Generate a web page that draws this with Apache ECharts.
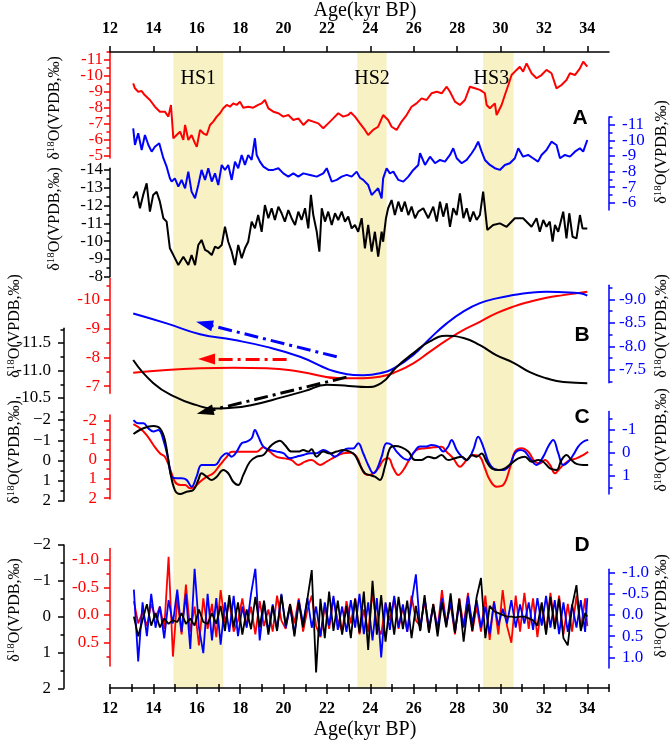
<!DOCTYPE html>
<html><head><meta charset="utf-8">
<script src="https://cdn.jsdelivr.net/npm/echarts@6.0.0/dist/echarts.min.js"></script>
<style>html,body{margin:0;padding:0;background:#fff}#c{width:671px;height:740px}</style>
</head><body><div id="c"></div>
<script>
// ---------------- DATA ----------------
const ageTicks = [12,13,14,15,16,17,18,19,20,21,22,23,24,25,26,27,28,29,30,31,32,33,34,35];
const ageLabels = [12,14,16,18,20,22,24,26,28,30,32,34];
const hsBands = [['HS1',14.92,17.22],['HS2',23.4,24.75],['HS3',29.2,30.6]];
const panelLetters = ['A','B','C','D'];

// Panel A (raw records)
const redA = [[13.07,-9.54],[13.15,-9.23],[13.3,-9.02],[13.46,-9.06],[13.6,-8.81],[13.84,-8.5],[14.07,-8.08],[14.3,-7.77],[14.53,-7.77],[14.69,-7.46],[14.81,-8.19],[14.92,-6.1],[15.07,-6.31],[15.23,-6.52],[15.38,-6.0],[15.46,-6.94],[15.61,-6.0],[15.76,-6.31],[15.92,-5.79],[16.0,-5.58],[16.15,-6.63],[16.3,-6.42],[16.46,-6.31],[16.61,-6.94],[16.76,-7.15],[16.92,-7.46],[17.07,-7.67],[17.22,-7.98],[17.38,-8.19],[17.53,-8.08],[17.68,-8.29],[17.84,-8.19],[17.99,-8.4],[18.14,-8.02],[18.37,-8.08],[18.6,-8.02],[18.83,-8.19],[18.99,-8.29],[19.14,-8.5],[19.3,-7.98],[19.53,-7.77],[19.76,-7.67],[19.99,-7.46],[20.22,-7.56],[20.45,-7.25],[20.68,-7.35],[20.91,-6.94],[21.14,-7.25],[21.37,-7.15],[21.6,-7.04],[21.83,-6.73],[22.06,-7.04],[22.29,-7.35],[22.52,-7.67],[22.75,-7.46],[22.98,-7.56],[23.1,-7.72],[23.29,-7.46],[23.52,-7.04],[23.75,-6.63],[23.9,-6.31],[24.13,-6.63],[24.36,-6.83],[24.59,-7.56],[24.82,-7.25],[24.98,-6.83],[25.21,-6.63],[25.44,-7.15],[25.67,-7.56],[25.9,-8.08],[26.13,-8.29],[26.36,-8.6],[26.59,-8.5],[26.82,-8.92],[27.06,-9.02],[27.29,-8.92],[27.52,-9.33],[27.67,-9.02],[27.9,-8.4],[28.13,-8.19],[28.36,-8.5],[28.59,-9.33],[28.82,-9.23],[29.05,-9.13],[29.28,-8.92],[29.36,-8.19],[29.51,-7.98],[29.74,-8.29],[29.82,-7.56],[30.05,-8.19],[30.2,-8.81],[30.36,-9.44],[30.51,-10.06],[30.74,-10.38],[30.89,-10.58],[31.04,-10.27],[31.2,-10.79],[31.43,-10.17],[31.66,-9.86],[31.89,-10.06],[32.12,-10.38],[32.35,-10.17],[32.58,-9.23],[32.81,-9.44],[33.04,-9.75],[33.2,-10.17],[33.43,-10.06],[33.66,-10.48],[33.81,-10.9],[34.0,-10.58]];
const blueA = [[13.07,-10.77],[13.15,-9.7],[13.3,-10.45],[13.46,-9.38],[13.61,-10.34],[13.77,-9.7],[13.92,-9.27],[14.07,-9.59],[14.27,-9.81],[14.46,-8.85],[14.61,-8.31],[14.76,-7.56],[14.84,-7.35],[14.99,-7.56],[15.15,-7.03],[15.3,-7.46],[15.46,-6.92],[15.61,-7.99],[15.76,-6.71],[15.92,-6.28],[16.07,-7.13],[16.22,-8.1],[16.38,-7.46],[16.53,-8.21],[16.69,-7.35],[16.84,-7.88],[16.99,-7.13],[17.15,-8.42],[17.3,-8.1],[17.45,-8.42],[17.61,-7.46],[17.76,-8.63],[17.91,-8.21],[18.07,-9.06],[18.22,-8.42],[18.37,-9.06],[18.53,-8.74],[18.68,-10.13],[18.76,-9.06],[18.91,-8.63],[19.07,-8.31],[19.3,-8.1],[19.53,-8.1],[19.76,-8.21],[19.99,-7.88],[20.22,-7.67],[20.45,-7.88],[20.68,-7.67],[20.91,-7.88],[21.22,-7.78],[21.53,-7.67],[21.83,-7.88],[21.99,-8.21],[22.22,-7.35],[22.45,-7.46],[22.68,-7.67],[22.91,-7.78],[23.14,-7.67],[23.37,-7.99],[23.52,-7.6],[23.67,-7.46],[23.9,-7.13],[24.06,-6.49],[24.21,-6.71],[24.36,-6.92],[24.52,-6.28],[24.59,-7.56],[24.75,-8.21],[24.9,-7.88],[25.06,-7.99],[25.29,-7.46],[25.52,-7.35],[25.75,-7.67],[25.98,-8.1],[26.21,-8.42],[26.29,-9.17],[26.52,-8.42],[26.75,-8.95],[26.98,-8.53],[27.21,-8.74],[27.44,-8.63],[27.67,-9.06],[27.82,-9.49],[27.98,-8.85],[28.21,-8.53],[28.44,-8.74],[28.67,-9.17],[28.82,-9.49],[28.97,-9.91],[29.13,-9.27],[29.28,-8.74],[29.51,-8.42],[29.74,-8.21],[29.97,-8.1],[30.2,-8.42],[30.43,-8.53],[30.66,-8.85],[30.82,-9.49],[31.04,-8.95],[31.27,-9.06],[31.5,-8.85],[31.73,-8.63],[31.89,-9.06],[32.12,-9.38],[32.35,-9.91],[32.58,-9.7],[32.74,-8.85],[32.97,-9.06],[33.2,-8.95],[33.43,-9.27],[33.66,-9.49],[33.81,-9.27],[34.0,-10.02]];
const blackA = [[13.07,-12.41],[13.23,-12.78],[13.38,-11.85],[13.53,-12.6],[13.69,-13.25],[13.84,-11.66],[13.99,-12.6],[14.15,-12.78],[14.3,-12.22],[14.46,-11.29],[14.61,-11.1],[14.76,-9.6],[14.92,-9.22],[15.15,-8.66],[15.38,-9.13],[15.61,-8.66],[15.76,-9.22],[15.92,-8.66],[16.07,-9.79],[16.22,-10.07],[16.38,-9.51],[16.53,-9.41],[16.69,-9.22],[16.84,-9.69],[16.99,-9.6],[17.15,-9.79],[17.3,-10.81],[17.45,-9.97],[17.61,-9.41],[17.76,-8.66],[17.91,-9.79],[18.07,-9.04],[18.22,-9.6],[18.37,-9.97],[18.53,-11.1],[18.68,-10.72],[18.83,-11.47],[18.99,-10.53],[19.14,-12.03],[19.3,-11.29],[19.45,-11.85],[19.6,-11.19],[19.76,-11.94],[19.91,-11.57],[20.06,-11.1],[20.22,-11.75],[20.37,-11.29],[20.53,-10.91],[20.68,-11.66],[20.83,-11.19],[20.99,-11.85],[21.14,-10.72],[21.26,-12.6],[21.37,-11.47],[21.53,-10.53],[21.65,-9.41],[21.76,-11.85],[21.91,-11.1],[22.06,-11.66],[22.22,-10.91],[22.37,-11.57],[22.52,-11.19],[22.68,-11.66],[22.83,-11.1],[22.98,-11.38],[23.14,-10.72],[23.29,-10.91],[23.44,-10.53],[23.6,-11.29],[23.75,-9.6],[23.9,-10.91],[24.06,-9.41],[24.21,-10.53],[24.36,-9.13],[24.52,-10.53],[24.59,-9.97],[24.72,-11.29],[24.82,-11.85],[24.98,-12.31],[25.13,-11.47],[25.29,-12.22],[25.44,-11.66],[25.59,-12.22],[25.75,-11.47],[25.9,-11.94],[26.06,-11.29],[26.21,-11.66],[26.44,-11.85],[26.67,-11.29],[26.9,-11.94],[27.06,-11.1],[27.21,-12.22],[27.36,-11.38],[27.52,-12.13],[27.67,-10.81],[27.82,-11.85],[27.98,-11.47],[28.13,-12.69],[28.29,-11.29],[28.44,-11.85],[28.59,-11.1],[28.75,-11.66],[28.9,-11.19],[29.05,-11.47],[29.2,-12.78],[29.39,-10.63],[29.66,-10.91],[29.97,-11.0],[30.28,-10.81],[30.66,-11.29],[31.04,-11.29],[31.43,-10.81],[31.66,-11.29],[31.81,-10.53],[31.97,-11.19],[32.12,-10.81],[32.27,-11.1],[32.4,-9.97],[32.51,-10.91],[32.66,-10.53],[32.89,-11.66],[33.04,-10.16],[33.17,-11.57],[33.32,-10.25],[33.5,-10.16],[33.66,-11.47],[33.78,-10.72],[34.0,-10.72]];

// Panel B (trends)
const redB = [[13.07,-7.46],[14.61,-7.56],[16.15,-7.62],[17.68,-7.64],[19.22,-7.62],[20.76,-7.50],[22.6,-7.27],[23.67,-7.27],[24.44,-7.32],[25.21,-7.50],[25.98,-7.79],[26.75,-8.20],[27.52,-8.60],[28.28,-8.95],[29.05,-9.24],[29.82,-9.54],[30.59,-9.77],[31.35,-9.94],[32.12,-10.08],[32.89,-10.17],[34.0,-10.29]];
const blueB = [[13.07,-8.70],[14.61,-8.49],[16.15,-8.26],[17.68,-8.14],[19.22,-7.99],[20.76,-7.78],[22.6,-7.44],[23.67,-7.39],[24.44,-7.43],[25.21,-7.57],[25.98,-7.82],[26.75,-8.17],[27.52,-8.49],[28.28,-8.74],[29.05,-8.92],[29.82,-9.02],[30.59,-9.09],[31.35,-9.14],[32.12,-9.16],[32.89,-9.15],[33.66,-9.13],[34.0,-9.08]];
const blackB = [[13.07,-11.19],[14.0,-10.77],[15.0,-10.52],[16.0,-10.37],[16.7,-10.31],[17.5,-10.32],[18.5,-10.37],[20.0,-10.52],[21.0,-10.63],[22.0,-10.74],[23.0,-10.72],[23.8,-10.70],[24.5,-10.77],[25.2,-11.06],[26.0,-11.32],[26.7,-11.52],[27.5,-11.63],[28.3,-11.59],[29.05,-11.46],[29.8,-11.28],[30.6,-11.14],[31.35,-10.97],[32.1,-10.86],[32.9,-10.79],[34.0,-10.77]];
// trend arrows: [tailAge, tailValue, headAge, headValue]
const arrowRed = [20.14,-7.94,16.45,-7.94];
const arrowBlue = [22.45,-7.78,16.35,-8.48];
const arrowBlack = [22.9,-10.88,16.38,-10.25];

// Panel C (filtered)
const blackC = [[13.08,-1.31],[13.54,-1.59],[14.0,-1.70],[14.3,-1.59],[14.53,-1.01],[14.76,0.47],[14.99,1.46],[15.23,1.65],[15.53,1.54],[15.84,1.46],[16.07,0.96],[16.22,0.63],[16.45,0.80],[16.69,0.96],[16.92,0.80],[17.22,0.47],[17.45,0.63],[17.68,1.05],[17.91,1.21],[18.14,0.72],[18.45,0.06],[18.76,-0.19],[19.07,-0.27],[19.37,-0.68],[19.6,-0.88],[19.83,-0.98],[20.06,-0.77],[20.37,-0.44],[20.68,-0.44],[20.91,-0.52],[21.14,-0.44],[21.29,-0.55],[21.52,-0.19],[21.83,-0.44],[22.14,-0.35],[22.45,-0.44],[22.75,-0.52],[23.06,-0.44],[23.29,-0.27],[23.52,0.22],[23.75,0.63],[23.98,0.72],[24.21,0.80],[24.44,0.96],[24.67,0.31],[24.9,-0.60],[25.13,-0.72],[25.44,-0.65],[25.75,-0.44],[26.06,-0.02],[26.36,-0.02],[26.67,-0.19],[26.98,-0.11],[27.28,-0.27],[27.59,-0.02],[27.9,-0.11],[28.21,-0.19],[28.44,-0.02],[28.67,-0.27],[28.9,-0.19],[29.13,-0.35],[29.36,0.06],[29.59,0.39],[29.9,0.47],[30.2,0.39],[30.51,0.14],[30.82,-0.11],[31.12,-0.19],[31.43,0.06],[31.74,-0.02],[31.97,0.06],[32.28,0.39],[32.58,0.47],[32.81,-0.02],[33.04,-0.27],[33.27,-0.02],[33.5,0.17],[33.81,0.22],[34.04,0.22]];
const redC = [[13.08,-1.82],[13.38,-1.60],[13.69,-1.25],[14.0,-0.74],[14.3,-0.31],[14.53,-0.13],[14.76,0.46],[14.99,1.15],[15.23,1.32],[15.46,1.32],[15.69,1.49],[15.92,1.41],[16.15,1.15],[16.45,0.90],[16.76,0.72],[17.07,0.29],[17.38,-0.13],[17.61,-0.39],[17.91,-0.39],[18.3,-0.39],[18.76,-0.39],[19.07,-0.62],[19.37,-0.39],[19.68,-0.13],[20.06,-0.05],[20.37,0.04],[20.68,0.29],[20.99,0.12],[21.29,0.04],[21.68,0.29],[21.98,0.12],[22.37,-0.13],[22.75,-0.31],[23.06,-0.34],[23.37,-0.13],[23.67,0.64],[23.9,0.81],[24.14,0.72],[24.37,0.46],[24.6,0.04],[24.83,-0.05],[25.06,0.46],[25.29,0.81],[25.52,0.55],[25.83,-0.05],[26.13,-0.48],[26.52,-0.57],[26.9,-0.62],[27.28,-0.65],[27.51,-0.39],[27.82,-0.05],[28.13,0.38],[28.44,0.04],[28.74,-0.22],[29.05,-0.13],[29.28,0.46],[29.51,1.07],[29.82,1.41],[30.13,1.32],[30.43,0.46],[30.66,-0.39],[30.97,-0.57],[31.28,-0.39],[31.58,0.12],[31.82,0.21],[32.05,0.04],[32.28,0.29],[32.51,0.72],[32.74,0.46],[32.97,0.21],[33.2,0.04],[33.5,-0.05],[33.81,-0.22],[34.04,-0.39]];
const blueC = [[13.08,-1.43],[13.31,-1.29],[13.54,-1.29],[13.77,-1.07],[14.0,-0.93],[14.23,-1.0],[14.46,-0.57],[14.69,0.30],[14.84,1.03],[15.07,1.10],[15.3,1.10],[15.53,1.17],[15.76,1.47],[15.99,1.03],[16.22,0.52],[16.53,0.52],[16.84,0.52],[17.15,0.16],[17.38,0.01],[17.61,0.16],[17.84,-0.06],[18.07,-0.42],[18.3,-0.49],[18.53,-0.64],[18.68,-1.0],[18.84,-0.71],[19.07,-0.28],[19.37,-0.13],[19.68,-0.06],[19.99,0.01],[20.29,0.23],[20.6,0.16],[20.91,0.09],[21.22,0.01],[21.52,0.01],[21.83,-0.13],[22.14,0.01],[22.37,0.16],[22.68,-0.06],[22.98,-0.20],[23.21,-0.20],[23.44,-0.42],[23.67,0.01],[23.9,0.52],[24.14,0.88],[24.29,0.74],[24.52,0.16],[24.75,-0.42],[24.98,-0.35],[25.21,-0.06],[25.52,0.23],[25.75,0.30],[25.98,0.01],[26.29,-0.28],[26.59,-0.28],[26.82,-0.35],[27.13,-0.28],[27.36,-0.06],[27.59,-0.28],[27.74,-0.57],[27.98,-0.13],[28.21,0.16],[28.44,0.30],[28.74,-0.13],[28.97,-0.71],[29.2,-0.28],[29.44,0.38],[29.66,0.67],[29.9,0.74],[30.13,0.74],[30.43,0.52],[30.66,0.01],[30.9,-0.13],[31.12,-0.06],[31.36,0.23],[31.66,0.52],[31.97,0.16],[32.2,-0.28],[32.43,-0.57],[32.66,0.01],[32.89,0.52],[33.12,0.38],[33.35,0.09],[33.58,-0.28],[33.81,-0.49],[34.04,-0.57]];

// Panel D (high-frequency residuals)
const dAges = [13.1,13.3,13.5,13.7,13.9,14.1,14.3,14.5,14.7,14.9,
  15.1,15.3,15.5,15.7,15.9,16.1,16.3,16.5,16.7,16.9,
  17.1,17.3,17.5,17.7,17.9,18.1,18.3,18.5,18.7,18.9,
  19.1,19.3,19.5,19.7,19.9,20.1,20.3,20.5,20.7,20.9,
  21.1,21.3,21.5,21.7,21.9,22.1,22.3,22.5,22.7,22.9,
  23.1,23.3,23.5,23.7,23.9,24.1,24.3,24.5,24.7,24.9,
  25.1,25.3,25.5,25.7,25.9,26.1,26.3,26.5,26.7,26.9,
  27.1,27.3,27.5,27.7,27.9,28.1,28.3,28.5,28.7,28.9,
  29.1,29.3,29.5,29.7,29.9,30.1,30.3,30.5,30.7,30.9,
  31.1,31.3,31.5,31.7,31.9,32.1,32.3,32.5,32.7,32.9,
  33.1,33.3,33.5,33.7,33.9,34.0];
const redD = [-0.25,0.15,-0.05,0.2,-0.2,0.05,-0.15,0.25,-1.05,0.75,
  -0.3,0.35,-0.55,0.3,-0.15,0.55,-0.3,0.25,-0.2,0.4,
  -0.45,0.15,-0.25,0.3,0.1,-0.3,0.2,-0.15,0.35,-0.25,
  0.2,-0.1,0.3,-0.35,0.1,0.25,-0.2,0.15,-0.3,0.3,
  -0.1,-0.35,0.2,0.4,-0.15,0.25,-0.3,0.1,0.3,-0.25,
  0.15,-0.3,0.35,-0.1,0.3,-0.4,0.2,0.35,-0.2,0.1,
  -0.3,0.25,-0.15,0.3,-0.35,0.1,0.2,-0.25,0.3,-0.2,
  0.25,-0.45,0.15,-0.2,0.35,-0.3,0.2,-0.4,0.3,-0.15,
  0.3,-0.35,0.45,-0.25,0.35,-0.45,0.2,0.5,-0.35,0.3,
  -0.4,0.25,-0.3,0.4,-0.2,0.3,-0.4,0.2,-0.35,0.35,
  -0.2,0.3,-0.35,0.25,-0.3,0.2];
const blueD = [-0.6,1.1,-0.3,0.5,-0.5,0.3,-0.2,0.55,-0.35,0.2,
  -0.6,0.4,-0.5,0.8,-1.1,0.3,0.9,-0.5,0.6,-0.4,
  0.7,-0.3,0.4,-0.45,0.5,-0.2,0.3,-0.5,-1.1,0.6,
  -0.3,0.4,-0.25,0.35,-0.5,0.3,-0.2,0.45,-0.35,0.2,
  -0.4,0.3,-0.2,0.5,-0.3,0.25,-0.45,0.35,-0.2,0.4,
  -0.35,0.3,-0.5,0.45,-0.3,0.6,-0.4,1.0,-0.3,0.35,
  -0.45,0.3,-0.25,0.4,-0.3,-0.96,0.35,-0.4,0.3,-0.2,
  0.35,-0.4,0.25,-0.3,0.4,-0.25,0.3,-0.45,0.2,-0.35,
  0.3,-0.2,0.45,-0.3,0.25,-0.15,0.2,-0.35,0.3,-0.25,
  0.2,-0.3,0.35,-0.4,0.25,-0.45,0.3,-0.35,0.45,-0.3,
  0.4,-0.25,0.3,-0.35,0.4,-0.4];
const blackD = [0.0,0.55,0.1,-0.35,0.25,-0.1,0.3,0.05,0.2,0.1,
  0.15,-0.1,0.2,0.05,0.25,-0.2,0.15,0.2,-0.1,0.2,
  -0.3,0.4,-0.6,0.3,-0.4,0.5,-0.2,0.35,-0.55,0.3,
  -0.45,0.5,-0.3,0.4,-0.6,0.25,-0.35,0.55,-0.4,0.3,
  -0.5,-1.3,1.56,-0.5,0.6,-0.7,0.4,-0.45,0.5,-0.3,
  0.6,-0.5,0.45,-0.7,0.93,-1.0,0.5,-0.6,0.7,-0.4,
  0.5,-0.55,0.35,-0.45,0.6,-0.3,0.4,-0.6,0.45,-0.35,
  0.55,-0.4,0.3,-0.65,0.45,-0.5,0.7,-0.35,0.4,-0.55,
  -1.08,0.6,-0.3,-0.15,-0.1,-0.05,0.0,0.0,0.02,0.0,
  0.0,0.05,0.1,0.25,-0.4,0.5,-0.55,0.35,-0.5,0.6,
  0.8,-0.3,-0.88,0.4,-0.1,0.0];

// axis tick values
const tkRedA=[-11,-10,-9,-8,-7,-6,-5], mnRedA=[-11.5,-10.5,-9.5,-8.5,-7.5,-6.5,-5.5];
const tkBlueA=[-11,-10,-9,-8,-7,-6], mnBlueA=[-11.5,-10.5,-9.5,-8.5,-7.5,-6.5];
const tkBlackA=[-14,-13,-12,-11,-10,-9,-8], mnBlackA=[-13.5,-12.5,-11.5,-10.5,-9.5,-8.5];
const tkRedB=[-10,-9,-8,-7], mnRedB=[-10.5,-9.5,-8.5,-7.5];
const tkBlackB=[-11.5,-11.0,-10.5], mnBlackB=[-11.75,-11.25,-10.75,-10.25];
const tkBlueB=[-9.0,-8.5,-8.0,-7.5], mnBlueB=[-9.25,-8.75,-8.25,-7.75,-7.25];
const tkC=[-2,-1,0,1,2], mnC=[-1.5,-0.5,0.5,1.5];
const tkBlueC=[-1,0,1], mnBlueC=[-1.5,-0.5,0.5,1.5];
const tkBlackD=[-2,-1,0,1,2], mnBlackD=[-1.5,-0.5,0.5,1.5];
const tkRedD=[-1.0,-0.5,0.0,0.5], mnRedD=[-0.75,-0.25,0.25,0.75];
const tkBlueD=[-1.0,-0.5,0.0,0.5,1.0], mnBlueD=[-0.75,-0.25,0.25,0.75];

// ---------------- BUILD ----------------
const SERIF='"Liberation Serif","Times New Roman",serif';
const SANS='"Liberation Sans",Arial,sans-serif';
const RED='#ff0000', BLUE='#0000ff', BLACK='#000000';
const YFS=17;
const grids=[], xAxes=[], yAxes=[], series=[];
const fmt=(d,minus)=>v=>(v<0?(minus||'-'):'')+Math.abs(v).toFixed(d);

// main frame grid (shared x axis)
grids.push({left:110,right:62,top:52,height:636});
const tickStyle={color:BLACK,width:1.5};
xAxes.push({type:'value',gridIndex:0,position:'top',min:12,max:35,z:10,
  axisLine:{onZero:false,lineStyle:tickStyle},
  axisTick:{customValues:ageLabels,length:6,lineStyle:tickStyle},
  axisLabel:{customValues:ageLabels,fontFamily:SERIF,fontWeight:'bold',fontSize:16,color:BLACK,margin:15,showMinLabel:true,showMaxLabel:true},
  splitLine:{show:false}});
xAxes.push({type:'value',gridIndex:0,position:'top',min:12,max:35,z:10,
  axisLine:{show:false},axisTick:{customValues:ageTicks,length:4,lineStyle:tickStyle},
  axisLabel:{show:false},splitLine:{show:false}});
xAxes.push({type:'value',gridIndex:0,position:'bottom',min:12,max:35,z:10,
  axisLine:{onZero:false,lineStyle:tickStyle},
  axisTick:{customValues:ageLabels,length:6,lineStyle:tickStyle},
  axisLabel:{customValues:ageLabels,fontFamily:SERIF,fontWeight:'bold',fontSize:16,color:BLACK,margin:13,showMinLabel:true,showMaxLabel:true},
  splitLine:{show:false}});
xAxes.push({type:'value',gridIndex:0,position:'bottom',min:12,max:35,z:10,
  axisLine:{show:false},axisTick:{customValues:ageTicks,length:4,lineStyle:tickStyle},
  axisLabel:{show:false},splitLine:{show:false}});
yAxes.push({type:'value',gridIndex:0,min:0,max:1,show:false});

// each panel axis is drawn as two stacked axes so neighbouring labels never get auto-hidden:
// axis 1 = line + major ticks + every other label, axis 2 = minor ticks + the remaining labels
function panelAxis(top,height,cfg){
  grids.push({left:110,right:62,top:top,height:height});
  const gi=grids.length-1;
  xAxes.push({type:'value',gridIndex:gi,min:12,max:35,show:false});
  const xi=xAxes.length-1;
  const ls={color:cfg.color,width:1.5};
  const evenL=cfg.ticks.filter((v,i)=>i%2===0), oddL=cfg.ticks.filter((v,i)=>i%2===1);
  const lab=(vals)=>({show:true,customValues:vals,formatter:cfg.fmt,color:cfg.color,fontFamily:SERIF,fontSize:YFS,margin:cfg.margin,
      showMinLabel:true,showMaxLabel:true,hideOverlap:false});
  yAxes.push({type:'value',gridIndex:gi,min:cfg.min,max:cfg.max,inverse:true,position:cfg.pos,offset:cfg.offset||0,
    axisLine:{show:true,onZero:false,lineStyle:ls},
    axisTick:{show:true,length:6,customValues:cfg.ticks,lineStyle:ls},
    axisLabel:lab(evenL),splitLine:{show:false}});
  const yi=yAxes.length-1;
  yAxes.push({type:'value',gridIndex:gi,min:cfg.min,max:cfg.max,inverse:true,position:cfg.pos,offset:cfg.offset||0,
    axisLine:{show:false},axisTick:{show:true,length:3.5,customValues:cfg.minors,lineStyle:ls},
    axisLabel:lab(oddL),splitLine:{show:false}});
  return {xi,yi};
}
function addLine(ax,data,color,width,smooth,extra){
  series.push(Object.assign({type:'line',xAxisIndex:ax.xi,yAxisIndex:ax.yi,data:data,symbol:'none',smooth:smooth||false,
    lineStyle:{color:color,width:width},itemStyle:{color:color},z:3,silent:true},extra||{}));
}
function arrowMark(a,color){
  return {markLine:{silent:true,symbol:['none','triangle'],symbolSize:[11,17],label:{show:false},
    lineStyle:{color:color,width:3,type:[14,5,3,5]},
    data:[[{coord:[a[0],a[1]]},{coord:[a[2],a[3]]}]]}};
}

// bands
series.push({type:'line',xAxisIndex:0,yAxisIndex:0,data:[[12,0.5]],symbol:'none',lineStyle:{opacity:0},z:1,silent:true,
  markArea:{silent:true,itemStyle:{color:'#f7f1c4'},
    label:{show:true,position:'insideTop',distance:17,color:BLACK,fontFamily:SERIF,fontSize:20},
    data:hsBands.map((b,i)=>[{xAxis:b[1],name:b[0],label:i===2?{offset:[-7,0]}:{}},{xAxis:b[2]}])}});

// Panel A
const aRed=panelAxis(52,106,{min:-11.5,max:-4.875,color:RED,pos:'left',ticks:tkRedA,minors:mnRedA,fmt:fmt(0),margin:7});
const aBlue=panelAxis(116.9,93.1,{min:-11.5,max:-5.53,color:BLUE,pos:'right',ticks:tkBlueA,minors:mnBlueA,fmt:fmt(0),margin:13});
const aBlack=panelAxis(168.2,108.6,{min:-14.1,max:-8,color:BLACK,pos:'left',ticks:tkBlackA,minors:mnBlackA,fmt:fmt(0),margin:7});
addLine(aRed,redA,RED,2);
addLine(aBlue,blueA,BLUE,2);
addLine(aBlack,blackA,BLACK,2);

// Panel B
const bRed=panelAxis(278.5,114.7,{min:-10.75,max:-6.75,color:RED,pos:'left',ticks:tkRedB,minors:mnRedB,fmt:fmt(0),margin:10});
const bBlack=panelAxis(328.15,91.85,{min:-11.77,max:-10.1,color:BLACK,pos:'left',offset:46,ticks:tkBlackB,minors:mnBlackB,fmt:fmt(1),margin:13});
const bBlue=panelAxis(285.2,97.5,{min:-9.3,max:-7.23,color:BLUE,pos:'right',ticks:tkBlueB,minors:mnBlueB,fmt:fmt(1),margin:10});
addLine(bRed,redB,RED,2,true,arrowMark(arrowRed,RED));
addLine(bBlue,blueB,BLUE,2,true,arrowMark(arrowBlue,BLUE));
addLine(bBlack,blackB,BLACK,2,true,arrowMark(arrowBlack,BLACK));

// Panel C
const cBlack=panelAxis(420,81,{min:-2,max:2,color:BLACK,pos:'left',offset:46,ticks:tkC,minors:mnC,fmt:fmt(0,'\u2212'),margin:13});
const cRed=panelAxis(415.1,84,{min:-2.28,max:2.05,color:RED,pos:'left',ticks:tkC,minors:mnC,fmt:fmt(0),margin:13});
const cBlue=panelAxis(411.6,82.3,{min:-1.8,max:1.78,color:BLUE,pos:'right',ticks:tkBlueC,minors:mnBlueC,fmt:fmt(0),margin:13});
addLine(cRed,redC,RED,2,0.4);
addLine(cBlue,blueC,BLUE,2,0.4);
addLine(cBlack,blackC,BLACK,2,0.4);

// Panel D
const dBlack=panelAxis(545,143.3,{min:-2,max:2,color:BLACK,pos:'left',offset:46,ticks:tkBlackD,minors:mnBlackD,fmt:fmt(0,'\u2212'),margin:13});
const dRed=panelAxis(548.5,117.5,{min:-1.2,max:0.92,color:RED,pos:'left',ticks:tkRedD,minors:mnRedD,fmt:fmt(1),margin:11});
const dBlue=panelAxis(569.3,98.6,{min:-1.08,max:1.25,color:BLUE,pos:'right',ticks:tkBlueD,minors:mnBlueD,fmt:fmt(1),margin:13});
const zip=v=>dAges.map((a,i)=>[a,v[i]]);
addLine(dRed,zip(redD),RED,1.8);
addLine(dBlue,zip(blueD),BLUE,1.8);
addLine(dBlack,zip(blackD),BLACK,1.8);

// ---------------- TEXT ----------------
const titlePos=[[55,108],[55,219],[15,326],[15,452],[15,610],[662,152],[662,326],[662,440],[662,606]];
const letterPos=[[580,118],[582,335],[582,417],[582,545]];
const elements=[];
titlePos.forEach(p=>elements.push({type:'text',x:p[0],y:p[1],rotation:Math.PI/2,silent:true,
  style:{text:'{a|\u03b4}{s|18}{a|O(VPDB,\u2030)}',align:'center',verticalAlign:'middle',textAlign:'center',textVerticalAlign:'middle',fill:BLACK,
    rich:{a:{fontFamily:SERIF,fontSize:16,fill:BLACK,lineHeight:18},s:{fontFamily:SERIF,fontSize:11,fill:BLACK,verticalAlign:'top',lineHeight:18}}}}));
letterPos.forEach((p,i)=>elements.push({type:'text',x:p[0],y:p[1],silent:true,
  style:{text:panelLetters[i],align:'center',verticalAlign:'middle',textAlign:'center',textVerticalAlign:'middle',fill:BLACK,
    font:'bold 21px '+SANS}}));
[[365,11],[365,730]].forEach(p=>elements.push({type:'text',x:p[0],y:p[1],silent:true,
  style:{text:'Age(kyr BP)',align:'center',verticalAlign:'middle',textAlign:'center',textVerticalAlign:'middle',fill:BLACK,
    font:'20px '+SERIF}}));

const chart=echarts.init(document.getElementById('c'),null,{renderer:'canvas'});
chart.setOption({animation:false,backgroundColor:'#ffffff',grid:grids,xAxis:xAxes,yAxis:yAxes,series:series,graphic:{elements:elements}});
</script></body></html>
